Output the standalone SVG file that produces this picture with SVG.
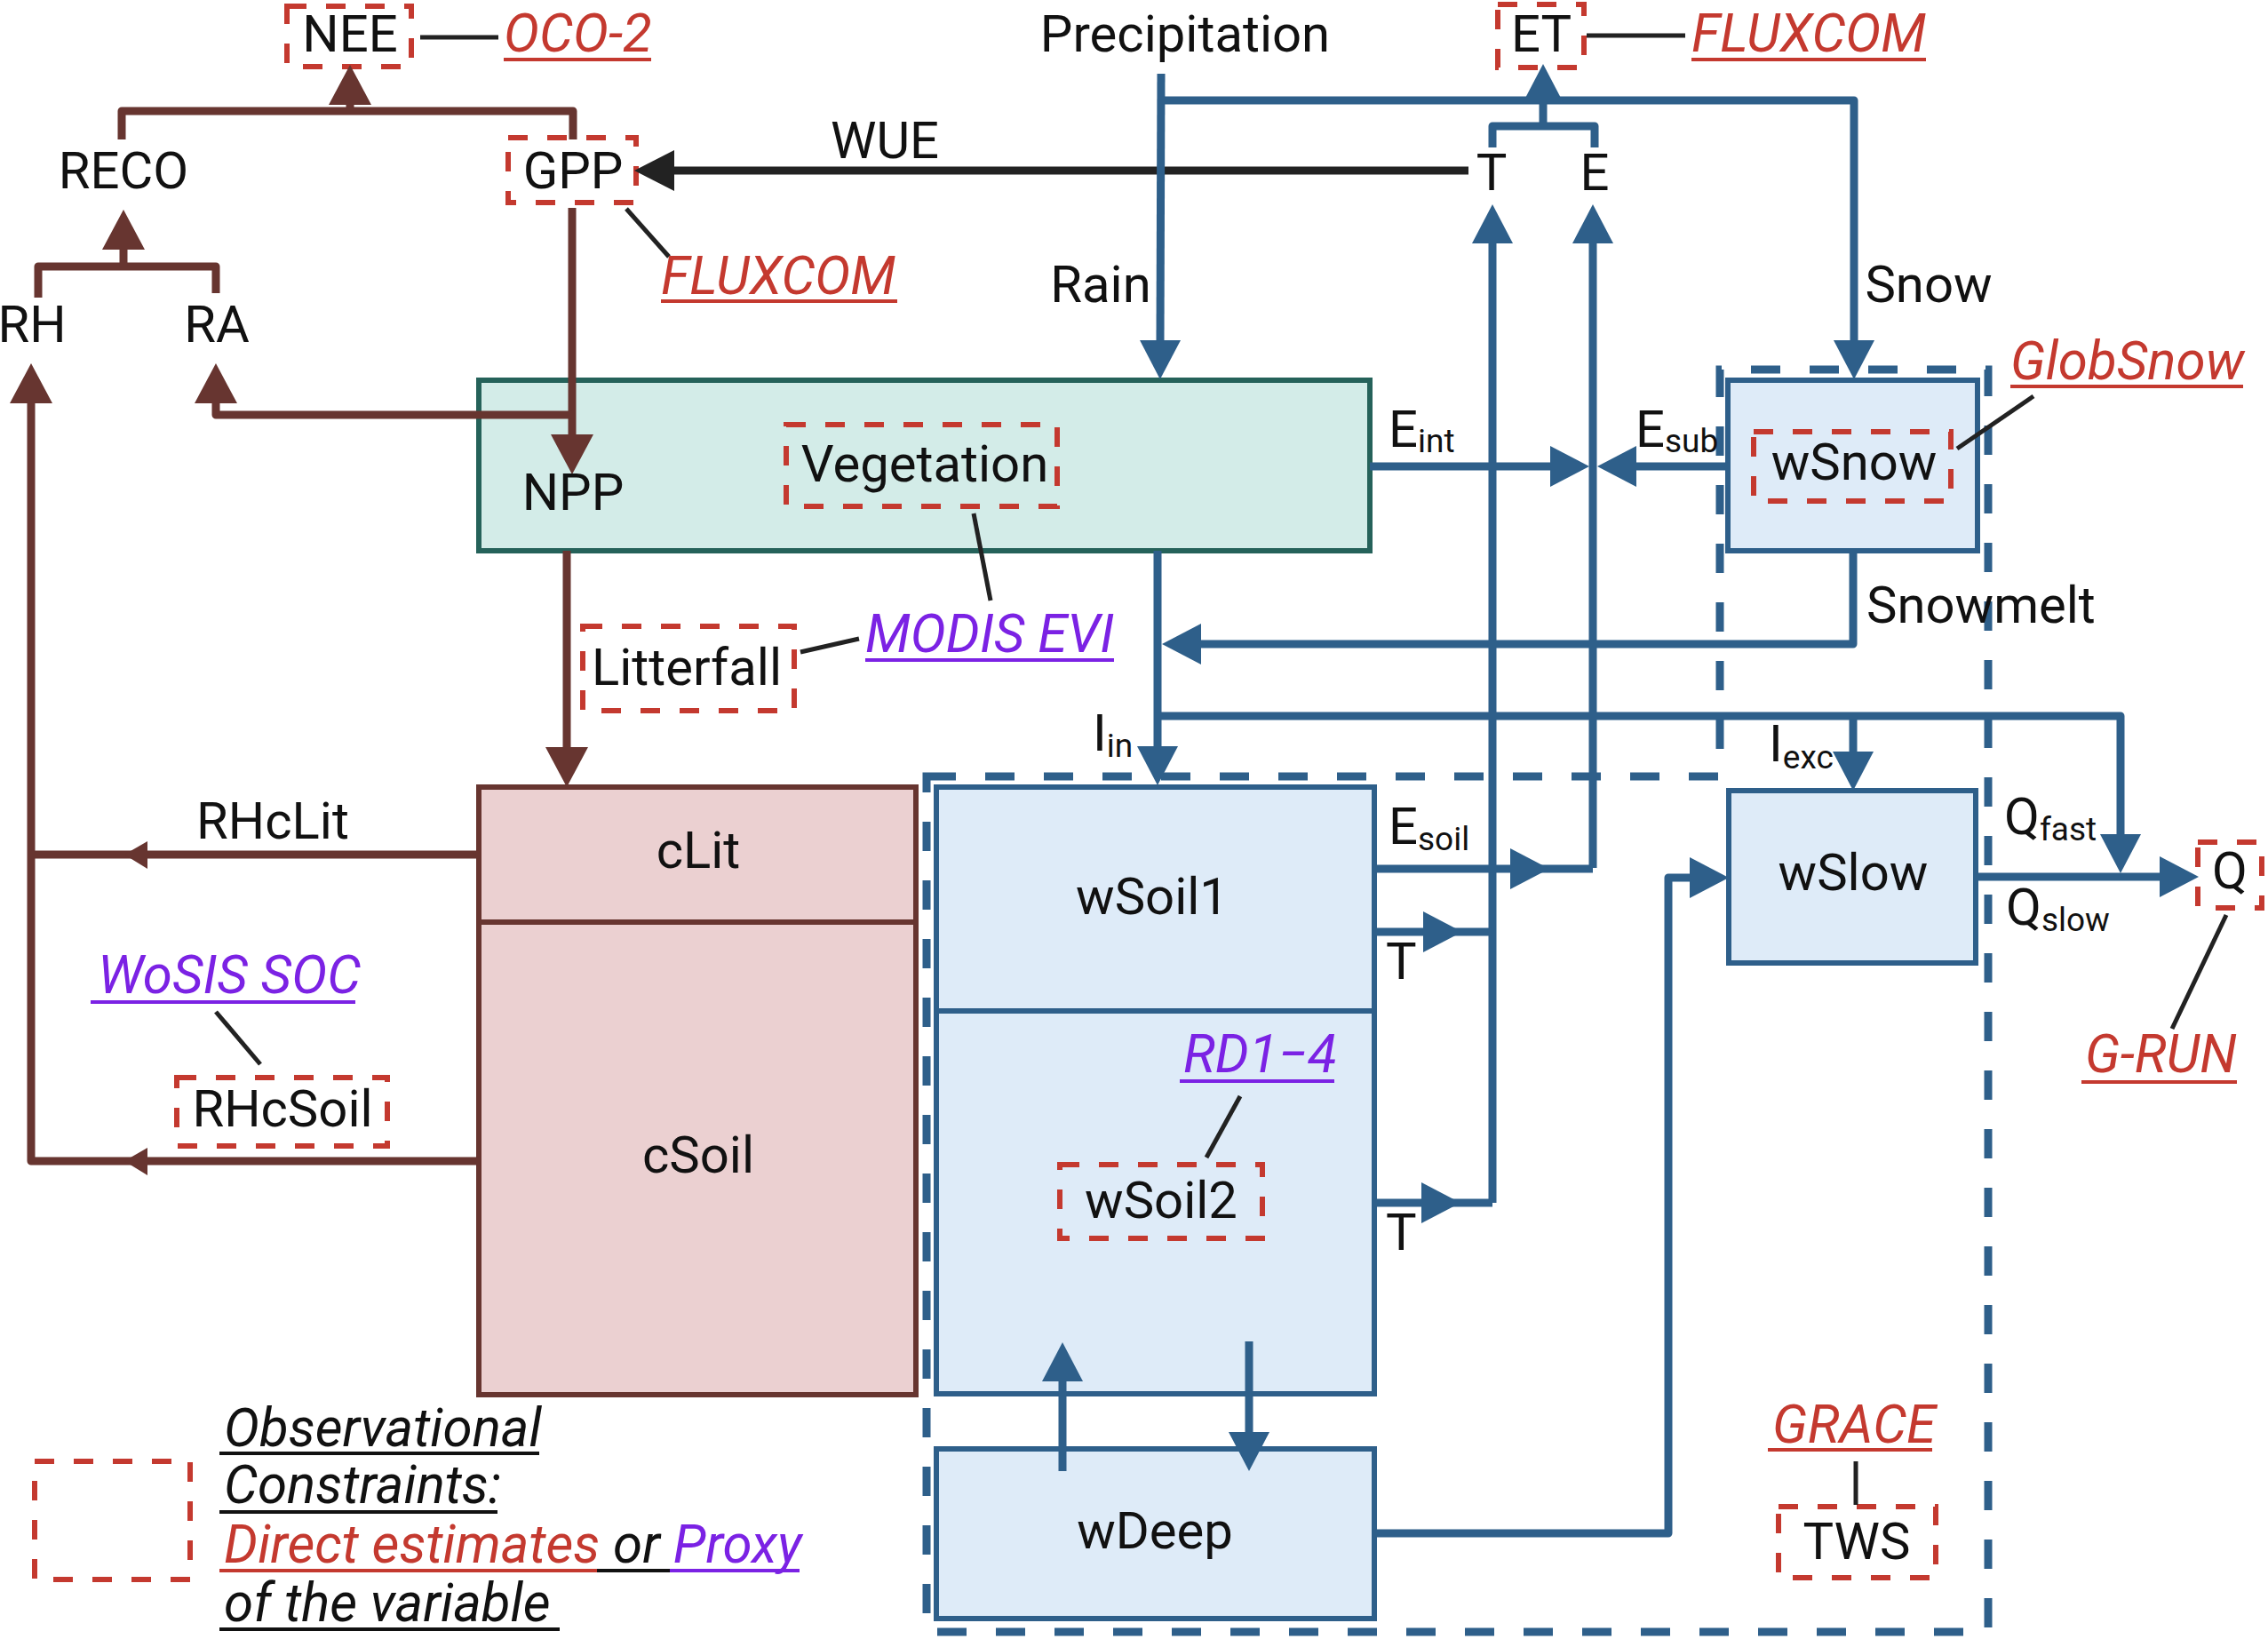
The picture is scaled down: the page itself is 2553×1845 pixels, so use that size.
<svg xmlns="http://www.w3.org/2000/svg" width="2553" height="1845" viewBox="0 0 2553 1845">
<style>
text{font-family:Roboto,"Liberation Sans",sans-serif;font-size:58px;fill:#111}
.m{text-anchor:middle}
.it{font-style:italic;font-size:60px}
.red{fill:#c4392f}
.pur{fill:#7b22e4}
.sub{font-size:37px}
.bl{fill:none;stroke:#2e5f8a;stroke-width:9;stroke-linejoin:round}
.br{fill:none;stroke:#673530;stroke-width:9;stroke-linejoin:round}
.bk{fill:none;stroke:#222;stroke-width:9}
.ld{fill:none;stroke:#222;stroke-width:5}
.rd{fill:none;stroke:#c4392f;stroke-width:6;stroke-dasharray:22 22}
.bd{fill:none;stroke:#2e5f8a;stroke-width:9;stroke-dasharray:33 33}
.ul{stroke-width:4}
.veg{fill:#d3ece8;stroke:#25625a;stroke-width:6}
.car{fill:#ebd0d1;stroke:#673530;stroke-width:6}
.wat{fill:#deebf8;stroke:#2e5f8a;stroke-width:6}
</style>
<defs>
<marker id="ab" markerUnits="userSpaceOnUse" viewBox="0 -23 44 46" markerWidth="44" markerHeight="46" refX="0" refY="0" orient="auto"><path d="M0,-23 L44,0 L0,23 Z" fill="#2e5f8a"/></marker>
<marker id="ar" markerUnits="userSpaceOnUse" viewBox="0 -24 45 48" markerWidth="45" markerHeight="48" refX="0" refY="0" orient="auto"><path d="M0,-24 L45,0 L0,24 Z" fill="#673530"/></marker>
<marker id="ak" markerUnits="userSpaceOnUse" viewBox="0 -23 45 46" markerWidth="45" markerHeight="46" refX="0" refY="0" orient="auto"><path d="M0,-23 L45,0 L0,23 Z" fill="#222"/></marker>
</defs>

<!-- dashed water region outline -->
<path id="tws-region" class="bd" d="M1043,874 L1936,874 L1936,416 L2238,416 L2238,1837 L1043,1837 Z"/>

<g id="node-NEE"><rect class="rd" x="323" y="7" width="140" height="68"/><text class="m" x="394" y="58">NEE</text></g>
<g id="node-GPP"><rect class="rd" x="572" y="155" width="144" height="73"/><text class="m" x="645" y="212">GPP</text></g>
<g id="node-ET"><rect class="rd" x="1686" y="5" width="97" height="71"/><text class="m" x="1735" y="58">ET</text></g>

<g id="node-vegetation">
  <rect class="veg" x="539" y="428" width="1003" height="192"/>
  <rect class="rd" x="885" y="478" width="305" height="92"/>
  <text class="m" x="1041" y="542">Vegetation</text>
</g>
<g id="node-litterfall"><rect class="rd" x="656" y="705" width="238" height="95"/><text class="m" x="773" y="771">Litterfall</text></g>
<g id="node-carbon">
  <rect class="car" x="539" y="886" width="492" height="684"/>
  <line x1="539" y1="1038" x2="1031" y2="1038" stroke="#673530" stroke-width="6"/>
  <text class="m" x="786" y="977">cLit</text>
  <text class="m" x="786" y="1320">cSoil</text>
</g>
<g id="node-RHcSoil"><rect class="rd" x="199" y="1213" width="237" height="77"/><text class="m" x="318" y="1268">RHcSoil</text></g>

<g id="node-wSnow">
  <rect class="wat" x="1945" y="428" width="281" height="192"/>
  <rect class="rd" x="1974" y="486" width="222" height="78"/>
  <text class="m" x="2087" y="540">wSnow</text>
</g>
<g id="node-wSoil">
  <rect class="wat" x="1054" y="886" width="493" height="683"/>
  <line x1="1054" y1="1138" x2="1547" y2="1138" stroke="#2e5f8a" stroke-width="6"/>
  <text class="m" x="1297" y="1029">wSoil1</text>
  <rect class="rd" x="1193" y="1311" width="228" height="83"/>
  <text class="m" x="1307" y="1371">wSoil2</text>
</g>
<g id="node-wDeep"><rect class="wat" x="1054" y="1631" width="493" height="191"/><text class="m" x="1300" y="1743">wDeep</text></g>
<g id="node-wSlow"><rect class="wat" x="1946" y="890" width="278" height="194"/><text class="m" x="2086" y="1002">wSlow</text></g>
<g id="node-Q"><rect class="rd" x="2474" y="948" width="72" height="74"/><text class="m" x="2510" y="1000">Q</text></g>
<g id="node-TWS"><rect class="rd" x="2002" y="1696" width="177" height="80"/><text class="m" x="2090" y="1755">TWS</text></g>

<g id="connectors">
  <!-- carbon -->
  <path class="br" d="M137,157 L137,125 L645,125 L645,157"/>
  <path class="br" d="M394,125 L394,118" marker-end="url(#ar)"/>
  <path class="br" d="M43,335 L43,300 L243,300 L243,330"/>
  <path class="br" d="M139,300 L139,281" marker-end="url(#ar)"/>
  <path class="br" d="M644,234 L644,489" marker-end="url(#ar)"/>
  <path class="br" d="M644,467 L243,467 L243,454" marker-end="url(#ar)"/>
  <path class="br" d="M638,620 L638,841" marker-end="url(#ar)"/>
  <path class="br" d="M539,1307 L35,1307 L35,454" marker-end="url(#ar)"/>
  <path class="br" d="M539,962 L35,962"/>
  <path d="M140,962 L166,947 L166,978 Z" fill="#673530"/>
  <path d="M140,1307 L166,1292 L166,1323 Z" fill="#673530"/>
  <!-- WUE -->
  <path class="bk" d="M1653,192 L759,192" marker-end="url(#ak)"/>
  <!-- water -->
  <path class="bl" d="M1307,83 L1306,383" marker-end="url(#ab)"/>
  <path class="bl" d="M1307,113 L2087,113 L2087,383" marker-end="url(#ab)"/>
  <path class="bl" d="M1680,166 L1680,142 L1795,142 L1795,166"/>
  <path class="bl" d="M1737,142 L1737,116" marker-end="url(#ab)"/>
  <path class="bl" d="M1680,1354 L1680,274" marker-end="url(#ab)"/>
  <path class="bl" d="M1793,977 L1793,274" marker-end="url(#ab)"/>
  <path class="bl" d="M1542,525 L1745,525" marker-end="url(#ab)"/>
  <path class="bl" d="M1945,525 L1842,525" marker-end="url(#ab)"/>
  <path class="bl" d="M1303,620 L1303,840" marker-end="url(#ab)"/>
  <path class="bl" d="M2086,622 L2086,725 L1352,725" marker-end="url(#ab)"/>
  <path class="bl" d="M1303,806 L2387,806 L2387,939" marker-end="url(#ab)"/>
  <path class="bl" d="M2086,806 L2086,846" marker-end="url(#ab)"/>
  <path class="bl" d="M1547,978 L1700,978 L1793,978" marker-mid="url(#ab)"/>
  <path class="bl" d="M1547,1049 L1602,1049 L1680,1049" marker-mid="url(#ab)"/>
  <path class="bl" d="M1547,1354 L1600,1354 L1680,1354" marker-mid="url(#ab)"/>
  <path class="bl" d="M1547,1726 L1878,1726 L1878,988 L1902,988" marker-end="url(#ab)"/>
  <path class="bl" d="M2226,987 L2431,987" marker-end="url(#ab)"/>
  <path class="bl" d="M1196,1656 L1196,1555" marker-end="url(#ab)"/>
  <path class="bl" d="M1406,1510 L1406,1612" marker-end="url(#ab)"/>
  <!-- leader lines -->
  <path class="ld" d="M473,42 L561,42"/>
  <path class="ld" d="M1786,40 L1897,40"/>
  <path class="ld" d="M705,235 L753,289"/>
  <path class="ld" d="M2203,505 L2289,446"/>
  <path class="ld" d="M901,734 L967,719"/>
  <path class="ld" d="M1096,578 L1115,676"/>
  <path class="ld" d="M243,1139 L293,1198"/>
  <path class="ld" d="M1396,1234 L1358,1303"/>
  <path class="ld" d="M2506,1030 L2445,1158"/>
  <path class="ld" d="M2089,1645 L2089,1694"/>
</g>

<g id="flux-labels">
  <text class="m" x="996" y="178">WUE</text>
  <text class="m" x="1334" y="58">Precipitation</text>
  <text class="m" x="1239" y="340">Rain</text>
  <text class="m" x="2171" y="340">Snow</text>
  <text class="m" x="1679" y="214">T</text>
  <text class="m" x="1795" y="214">E</text>
  <text x="1563" y="503">E<tspan class="sub" dy="6">int</tspan></text>
  <text x="1841" y="503">E<tspan class="sub" dy="6">sub</tspan></text>
  <text x="2101" y="701">Snowmelt</text>
  <text x="1230" y="845">I<tspan class="sub" dy="7">in</tspan></text>
  <text x="1991" y="857">I<tspan class="sub" dy="8">exc</tspan></text>
  <text x="1563" y="950">E<tspan class="sub" dy="7">soil</tspan></text>
  <text x="1560" y="1102">T</text>
  <text x="1560" y="1407">T</text>
  <text x="2256" y="939">Q<tspan class="sub" dy="7">fast</tspan></text>
  <text x="2258" y="1041">Q<tspan class="sub" dy="7">slow</tspan></text>
  <text class="m" x="139" y="212">RECO</text>
  <text class="m" x="36" y="385">RH</text>
  <text class="m" x="244" y="385">RA</text>
  <text class="m" x="645" y="574">NPP</text>
  <text class="m" x="307" y="944">RHcLit</text>
</g>

<g id="observations">
  <text class="it red" x="567" y="58">OCO-2</text><line class="ul" x1="567" y1="67" x2="733" y2="67" stroke="#c4392f"/>
  <text class="it red" x="744" y="331">FLUXCOM</text><line class="ul" x1="744" y1="339" x2="1010" y2="339" stroke="#c4392f"/>
  <text class="it red" x="1904" y="58">FLUXCOM</text><line class="ul" x1="1904" y1="67" x2="2168" y2="67" stroke="#c4392f"/>
  <text class="it red" x="2263" y="427">GlobSnow</text><line class="ul" x1="2263" y1="435" x2="2525" y2="435" stroke="#c4392f"/>
  <text class="it red" x="2347" y="1207">G-RUN</text><line class="ul" x1="2343" y1="1218" x2="2518" y2="1218" stroke="#c4392f"/>
  <text class="it red" x="1995" y="1624">GRACE</text><line class="ul" x1="1990" y1="1632" x2="2175" y2="1632" stroke="#c4392f"/>
  <text class="it pur" x="974" y="734">MODIS EVI</text><line class="ul" x1="974" y1="743" x2="1254" y2="743" stroke="#7b22e4"/>
  <text class="it pur" x="110" y="1118">WoSIS SOC</text><line class="ul" x1="102" y1="1128" x2="400" y2="1128" stroke="#7b22e4"/>
  <text class="it pur" x="1332" y="1207">RD1−4</text><line class="ul" x1="1328" y1="1217" x2="1502" y2="1217" stroke="#7b22e4"/>
</g>

<g id="legend">
  <rect class="rd" x="39" y="1645" width="175" height="133"/>
  <text class="it" x="252" y="1628">Observational</text><line class="ul" x1="247" y1="1636" x2="607" y2="1636" stroke="#111"/>
  <text class="it" x="252" y="1692">Constraints:</text><line class="ul" x1="247" y1="1702" x2="560" y2="1702" stroke="#111"/>
  <text class="it" x="252" y="1759"><tspan class="red">Direct estimates</tspan> or <tspan class="pur">Proxy</tspan></text>
  <line class="ul" x1="247" y1="1768" x2="672" y2="1768" stroke="#c4392f"/>
  <line class="ul" x1="672" y1="1768" x2="754" y2="1768" stroke="#111"/>
  <line class="ul" x1="754" y1="1768" x2="900" y2="1768" stroke="#7b22e4"/>
  <text class="it" x="252" y="1825">of the variable</text><line class="ul" x1="247" y1="1834" x2="630" y2="1834" stroke="#111"/>
</g>
</svg>
